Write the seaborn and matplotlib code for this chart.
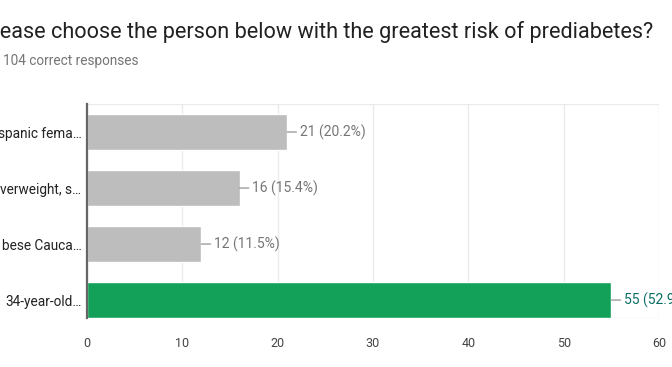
import matplotlib
matplotlib.use("Agg")
import matplotlib.pyplot as plt
import seaborn as sns
import pandas as pd

# answers shown on the chart (truncated the way the form shows them)
labels = ["spanic fema…", "verweight, s…", "bese Cauca…", "34-year-old…"]
counts = [21, 16, 12, 55]
pcts = ["20.2%", "15.4%", "11.5%", "52.9%"]
correct = [False, False, False, True]

title = "Please choose the person below with the greatest risk of prediabetes?"
subtitle = "104 correct responses"

df = pd.DataFrame({"label": labels, "count": counts, "correct": correct})

sns.set_style("white")
plt.rcParams["font.family"] = ["Roboto", "DejaVu Sans"]

fig = plt.figure(figsize=(6.72, 3.67), dpi=100)
ax = fig.add_axes([87 / 672, 1 - 318 / 367, 572 / 672, 214 / 367])

palette = ["#13a058" if c else "#bdbdbd" for c in correct]
sns.barplot(data=df, x="count", y="label", hue="label", palette=palette,
            legend=False, width=0.64, ax=ax, saturation=1)

ax.set_xlim(0, 60)
ax.set_ylim(3.32, -0.5)
ax.set_xticks([0, 10, 20, 30, 40, 50, 60])
ax.grid(axis="x", color="#ebebeb", linewidth=1)
ax.set_axisbelow(True)
for side in ["top", "right", "bottom"]:
    ax.spines[side].set_visible(False)
ax.spines["left"].set_color("#666666")
ax.spines["left"].set_linewidth(1.6)
ax.axhline(-0.5, color="#ebebeb", linewidth=1, zorder=0)
ax.axhline(3.32, color="#ebebeb", linewidth=1, zorder=0)
ax.set_xlabel("")
ax.set_ylabel("")
ax.tick_params(axis="x", length=0, pad=14, labelsize=9, labelcolor="#444444")
ax.tick_params(axis="y", length=0, pad=4, labelsize=9.8, labelcolor="#222222")

for i, (n, p, c) in enumerate(zip(counts, pcts, correct)):
    ax.annotate(f"{n} ({p})", xy=(n, i), xytext=(9, 0), textcoords="offset points",
                va="center", ha="left", fontsize=10,
                color="#0b6e66" if c else "#757575",
                arrowprops=dict(arrowstyle="-", color="#9e9e9e", lw=1,
                                shrinkA=0, shrinkB=0),
                annotation_clip=False)

# the question runs off the left edge in the original screenshot
fig.text(653 / 672, 1 - 38 / 367, title, fontsize=15.6, color="#212121", ha="right", va="baseline")
fig.text(3 / 672, 1 - 65 / 367, subtitle, fontsize=9.8, color="#757575", ha="left", va="baseline")

fig.savefig("out.png", dpi=100)
